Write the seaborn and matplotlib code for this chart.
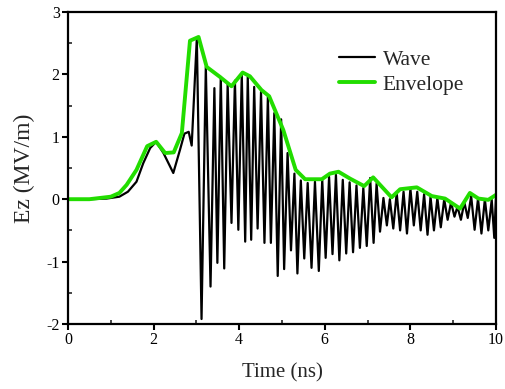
import matplotlib
matplotlib.use("Agg")
import matplotlib.pyplot as plt
import seaborn as sns
import pandas as pd
from matplotlib.ticker import MultipleLocator

# ---- data ----
wave_t = [0.0, 0.5, 0.9, 1.2, 1.4, 1.6, 1.76, 1.92, 2.06, 2.23, 2.46, 2.62, 2.72, 2.82, 2.89,
          3.01, 3.12, 3.22, 3.33, 3.42, 3.49, 3.57, 3.65, 3.73, 3.82, 3.90, 3.98, 4.06, 4.14,
          4.20, 4.28, 4.35, 4.43, 4.51, 4.59, 4.67, 4.74, 4.82, 4.90, 4.98, 5.05, 5.13, 5.21,
          5.29, 5.36, 5.44, 5.52, 5.60, 5.69, 5.77, 5.86, 5.94, 6.02, 6.10, 6.18, 6.26, 6.34,
          6.42, 6.50, 6.58, 6.66, 6.74, 6.82, 6.90, 6.98, 7.06, 7.14, 7.21, 7.29, 7.37, 7.45,
          7.52, 7.60, 7.68, 7.76, 7.84, 7.92, 8.00, 8.08, 8.16, 8.24, 8.32, 8.40, 8.47, 8.55,
          8.63, 8.71, 8.79, 8.87, 8.95, 9.03, 9.10, 9.18, 9.26, 9.34, 9.42, 9.50, 9.58, 9.66,
          9.74, 9.82, 9.90, 9.96, 10.0]
wave_ez = [0.0, 0.0, 0.01, 0.04, 0.12, 0.28, 0.58, 0.82, 0.92, 0.74, 0.42, 0.80, 1.05, 1.08, 0.86,
           2.58, -1.92, 2.12, -1.40, 1.78, -1.02, 1.96, -1.11, 1.84, -0.38, 1.90, -0.49, 2.00, -0.68,
           1.96, -0.65, 1.80, -0.47, 1.72, -0.70, 1.64, -0.70, 1.38, -1.23, 1.28, -1.12, 0.74, -0.82,
           0.41, -1.19, 0.30, -0.95, 0.26, -1.10, 0.28, -1.15, 0.31, -0.94, 0.36, -0.88, 0.39, -0.98,
           0.31, -0.87, 0.27, -0.85, 0.22, -0.78, 0.18, -0.75, 0.34, -0.70, 0.25, -0.52, 0.02, -0.42,
           0.00, -0.47, 0.10, -0.50, 0.12, -0.55, 0.17, -0.42, 0.12, -0.50, 0.08, -0.57, 0.04, -0.50,
           0.02, -0.45, 0.00, -0.33, -0.05, -0.28, -0.12, -0.33, -0.05, -0.30, 0.05, -0.49, 0.01, -0.55,
           0.00, -0.50, -0.01, -0.62, 0.05]

env_t = [0.0, 0.5, 1.0, 1.2, 1.37, 1.6, 1.85, 2.06, 2.27, 2.47, 2.66, 2.85, 3.05, 3.24, 3.55,
         3.82, 4.08, 4.25, 4.52, 4.70, 5.03, 5.32, 5.54, 5.93, 6.12, 6.32, 6.59, 6.92, 7.13,
         7.56, 7.76, 8.15, 8.50, 8.81, 9.16, 9.39, 9.59, 9.82, 10.0]
env_ez = [0.0, 0.0, 0.04, 0.10, 0.23, 0.47, 0.85, 0.92, 0.74, 0.75, 1.06, 2.54, 2.60, 2.12, 1.96,
          1.81, 2.03, 1.97, 1.75, 1.65, 1.11, 0.47, 0.32, 0.32, 0.41, 0.44, 0.33, 0.21, 0.35,
          0.03, 0.16, 0.19, 0.05, 0.01, -0.15, 0.10, 0.01, -0.01, 0.07]

x_ticks = [0, 2, 4, 6, 8, 10]
y_ticks = [-2, -1, 0, 1, 2, 3]

sns.set_style("ticks")
plt.rcParams['font.family'] = ['Liberation Serif', 'DejaVu Serif']

wave_df = pd.DataFrame({"t": wave_t, "ez": wave_ez})
env_df = pd.DataFrame({"t": env_t, "ez": env_ez})

fig = plt.figure(figsize=(5.05, 3.89), dpi=100)
ax = fig.add_axes([68 / 505, 1 - 324 / 389, (496 - 68) / 505, (324 - 12) / 389])

sns.lineplot(data=wave_df, x="t", y="ez", ax=ax, color="black", lw=1.6,
             label="Wave", sort=False, estimator=None)
sns.lineplot(data=env_df, x="t", y="ez", ax=ax, color="#22dd00", lw=2.8,
             label="Envelope", sort=False, estimator=None)

ax.set_xlim(0, 10)
ax.set_ylim(-2, 3)
ax.set_xticks(x_ticks)
ax.set_yticks(y_ticks)
ax.set_xticklabels([str(v) for v in x_ticks])
ax.set_yticklabels([str(v) for v in y_ticks])
ax.xaxis.set_minor_locator(MultipleLocator(1))
ax.yaxis.set_minor_locator(MultipleLocator(0.5))
ax.tick_params(which="major", direction="out", length=4, width=1.5, labelsize=11.5,
               colors="black", pad=2)
ax.tick_params(which="minor", direction="in", length=3, width=1.2)
ax.tick_params(top=False, right=False, which="both")
for s in ax.spines.values():
    s.set_visible(True)
    s.set_linewidth(1.6)
    s.set_color("black")

ax.set_xlabel("Time (ns)", fontsize=15, labelpad=11)
ax.set_ylabel("Ez (MV/m)", fontsize=17, labelpad=8)

leg = ax.legend(loc="upper right", bbox_to_anchor=(0.971, 0.942), frameon=False,
                fontsize=15.5, handlelength=1.67, handletextpad=0.37, labelspacing=0.25,
                borderpad=0.4)

fig.savefig("out.png", dpi=100)
